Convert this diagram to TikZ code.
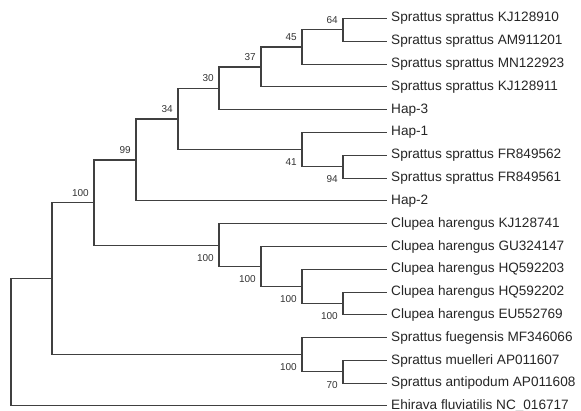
\documentclass[tikz,border=0pt]{standalone}
\usepackage{fontspec}
\setmainfont{Liberation Sans}
\begin{document}
\begin{tikzpicture}[x=1pt,y=-1pt,
	branch/.style={draw=black!75,line width=1.1pt},
	taxon/.style={anchor=west,inner xsep=4pt,inner ysep=0pt,text=black!85,font=\fontsize{13.6}{15}\selectfont},
	bsup/.style={anchor=south east,inner sep=0pt,xshift=-5pt,yshift=6pt,text=black!80,font=\fontsize{10}{11}\selectfont},
	bsdown/.style={anchor=north east,inner sep=0pt,xshift=-5pt,yshift=-9pt,text=black!80,font=\fontsize{10}{11}\selectfont}]
	\useasboundingbox (0,0) rectangle (581,411);
	
	% taxa
	\node[taxon] (t1) at (387,18.5) {Sprattus sprattus KJ128910};
	\node[taxon] (t2) at (387,41.3) {Sprattus sprattus AM911201};
	\node[taxon] (t3) at (387,64.1) {Sprattus sprattus MN122923};
	\node[taxon] (t4) at (387,86.9) {Sprattus sprattus KJ128911};
	\node[taxon] (t5) at (387,109.7) {Hap-3};
	\node[taxon] (t6) at (387,132.5) {Hap-1};
	\node[taxon] (t7) at (387,155.3) {Sprattus sprattus FR849562};
	\node[taxon] (t8) at (387,178.1) {Sprattus sprattus FR849561};
	\node[taxon] (t9) at (387,200.9) {Hap-2};
	\node[taxon] (t10) at (387,223.7) {Clupea harengus KJ128741};
	\node[taxon] (t11) at (387,246.5) {Clupea harengus GU324147};
	\node[taxon] (t12) at (387,269.3) {Clupea harengus HQ592203};
	\node[taxon] (t13) at (387,292.1) {Clupea harengus HQ592202};
	\node[taxon] (t14) at (387,314.9) {Clupea harengus EU552769};
	\node[taxon] (t15) at (387,337.7) {Sprattus fuegensis MF346066};
	\node[taxon] (t16) at (387,360.5) {Sprattus muelleri AP011607};
	\node[taxon] (t17) at (387,383.3) {Sprattus antipodum AP011608};
	\node[taxon] (t18) at (387,405.6) {Ehirava fluviatilis NC\_016717};
	
	% internal nodes
	\coordinate (sp64) at (343,29.9);
	\coordinate (sp45) at (302,47.0);
	\coordinate (sp37) at (261,67.0);
	\coordinate (sp30) at (219,88.3);
	\coordinate (sp94) at (343,166.7);
	\coordinate (sp41) at (302,149.6);
	\coordinate (sp34) at (178,119.0);
	\coordinate (sp99) at (136,160.0);
	\coordinate (cl4) at (343,303.5);
	\coordinate (cl3) at (302,286.4);
	\coordinate (cl2) at (261,266.5);
	\coordinate (cl1) at (219,245.1);
	\coordinate (north) at (94,202.5);
	\coordinate (so2) at (343,371.9);
	\coordinate (so1) at (302,354.8);
	\coordinate (ingroup) at (52,278.7);
	\coordinate (root) at (11,342.2);
	
	% branches
	\draw[branch] (sp64) |- (t1.west) (sp64) |- (t2.west);
	\draw[branch] (sp45) |- (sp64) (sp45) |- (t3.west);
	\draw[branch] (sp37) |- (sp45) (sp37) |- (t4.west);
	\draw[branch] (sp30) |- (sp37) (sp30) |- (t5.west);
	\draw[branch] (sp94) |- (t7.west) (sp94) |- (t8.west);
	\draw[branch] (sp41) |- (t6.west) (sp41) |- (sp94);
	\draw[branch] (sp34) |- (sp30) (sp34) |- (sp41);
	\draw[branch] (sp99) |- (sp34) (sp99) |- (t9.west);
	\draw[branch] (cl4) |- (t13.west) (cl4) |- (t14.west);
	\draw[branch] (cl3) |- (t12.west) (cl3) |- (cl4);
	\draw[branch] (cl2) |- (t11.west) (cl2) |- (cl3);
	\draw[branch] (cl1) |- (t10.west) (cl1) |- (cl2);
	\draw[branch] (north) |- (sp99) (north) |- (cl1);
	\draw[branch] (so2) |- (t16.west) (so2) |- (t17.west);
	\draw[branch] (so1) |- (t15.west) (so1) |- (so2);
	\draw[branch] (ingroup) |- (north) (ingroup) |- (so1);
	\draw[branch] (root) |- (ingroup) (root) |- (t18.west);
	
	% bootstrap values
	\node[bsup] (b64) at (sp64) {64};
	\node[bsup] (b45) at (sp45) {45};
	\node[bsup] (b37) at (sp37) {37};
	\node[bsup] (b30) at (sp30) {30};
	\node[bsup] (b34) at (sp34) {34};
	\node[bsup] (b99) at (sp99) {99};
	\node[bsup] (bnorth) at (north) {100};
	\node[bsdown] (b41) at (sp41) {41};
	\node[bsdown] (b94) at (sp94) {94};
	\node[bsdown] (bcl1) at (cl1) {100};
	\node[bsdown] (bcl2) at (cl2) {100};
	\node[bsdown] (bcl3) at (cl3) {100};
	\node[bsdown] (bcl4) at (cl4) {100};
	\node[bsdown] (bso1) at (so1) {100};
	\node[bsdown] (bso2) at (so2) {70};
\end{tikzpicture}
\end{document}
